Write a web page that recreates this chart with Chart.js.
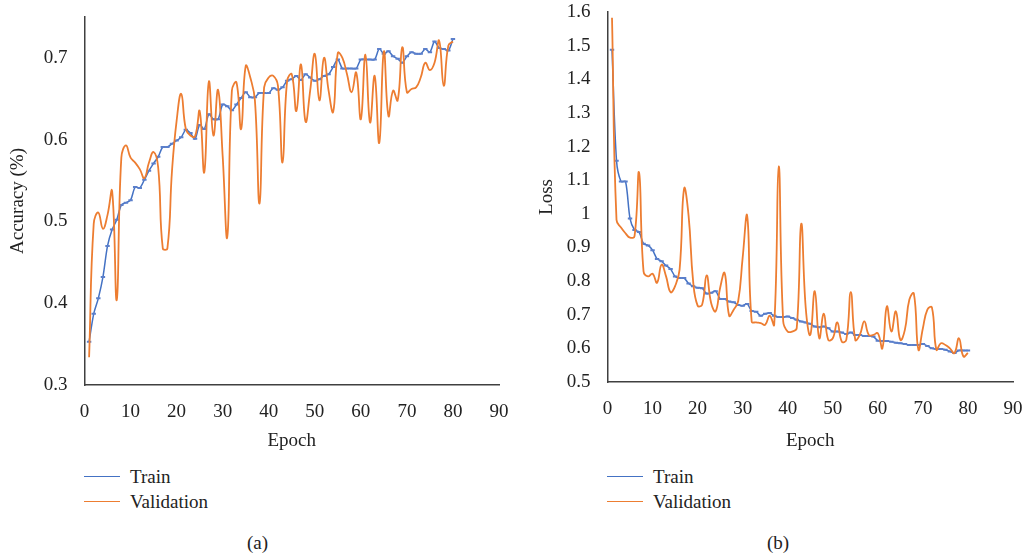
<!DOCTYPE html>
<html>
<head>
<meta charset="utf-8">
<script src="https://cdn.jsdelivr.net/npm/chart.js@4/dist/chart.umd.min.js"></script>
<style>
    body { margin: 0; width: 1026px; height: 559px; background: #fff; position: relative; overflow: hidden;
           font-family: 'Liberation Serif', 'DejaVu Serif', serif; color: #222; }
    .box { position: absolute; top: 0; width: 513px; height: 460px; }
    .key { position: absolute; width: 36px; height: 0; border-top: 1.5px solid; }
    .txt { position: absolute; font-size: 19px; line-height: 23px; white-space: nowrap; }
</style>
</head>
<body>
<div class="box" style="left:0"><canvas id="chartA" width="513" height="460"></canvas></div>
<div class="box" style="left:513px"><canvas id="chartB" width="513" height="460"></canvas></div>

<div class="key" style="left:84px;top:476px;border-color:#4472C4"></div>
<div class="txt" style="left:130px;top:465px">Train</div>
<div class="key" style="left:84px;top:501px;border-color:#ED7D31"></div>
<div class="txt" style="left:130px;top:490px">Validation</div>
<div class="txt" style="left:247px;top:531px">(a)</div>

<div class="key" style="left:607px;top:476px;border-color:#4472C4"></div>
<div class="txt" style="left:653px;top:465px">Train</div>
<div class="key" style="left:607px;top:501px;border-color:#ED7D31"></div>
<div class="txt" style="left:653px;top:490px">Validation</div>
<div class="txt" style="left:767px;top:531px">(b)</div>

<script>
// epochs 1..80
const epochs = Array.from({ length: 80 }, (_, i) => i + 1);

const accTrain = [
    0.353, 0.387, 0.406, 0.432, 0.470, 0.490, 0.502, 0.520, 0.523, 0.526,
    0.542, 0.541, 0.551, 0.562, 0.571, 0.579, 0.591, 0.591, 0.595, 0.599,
    0.603, 0.612, 0.608, 0.601, 0.618, 0.613, 0.631, 0.625, 0.625, 0.643,
    0.641, 0.636, 0.643, 0.651, 0.658, 0.652, 0.652, 0.657, 0.657, 0.657,
    0.663, 0.661, 0.664, 0.672, 0.674, 0.678, 0.673, 0.680, 0.676, 0.672,
    0.674, 0.678, 0.680, 0.689, 0.698, 0.687, 0.687, 0.687, 0.687, 0.698,
    0.698, 0.698, 0.698, 0.711, 0.705, 0.708, 0.702, 0.699, 0.694, 0.702,
    0.707, 0.705, 0.705, 0.711, 0.707, 0.720, 0.712, 0.711, 0.709, 0.723
];
const accVal = [
    0.334, 0.497, 0.511, 0.491, 0.508, 0.537, 0.404, 0.578, 0.593, 0.578,
    0.572, 0.564, 0.553, 0.572, 0.585, 0.566, 0.467, 0.467, 0.562, 0.623,
    0.656, 0.613, 0.605, 0.604, 0.635, 0.560, 0.671, 0.605, 0.661, 0.580,
    0.481, 0.660, 0.670, 0.613, 0.690, 0.676, 0.648, 0.522, 0.664, 0.676,
    0.678, 0.666, 0.572, 0.672, 0.680, 0.635, 0.692, 0.622, 0.660, 0.705,
    0.648, 0.700, 0.660, 0.634, 0.706, 0.700, 0.680, 0.658, 0.682, 0.625,
    0.704, 0.621, 0.678, 0.596, 0.708, 0.629, 0.660, 0.648, 0.713, 0.658,
    0.662, 0.664, 0.676, 0.694, 0.685, 0.694, 0.721, 0.666, 0.715, 0.720
];
const lossTrain = [
    1.488, 1.158, 1.096, 1.096, 0.986, 0.952, 0.946, 0.911, 0.906, 0.892,
    0.866, 0.859, 0.846, 0.836, 0.814, 0.809, 0.809, 0.793, 0.785, 0.780,
    0.779, 0.763, 0.765, 0.770, 0.747, 0.747, 0.739, 0.737, 0.729, 0.727,
    0.732, 0.711, 0.709, 0.697, 0.703, 0.705, 0.697, 0.693, 0.693, 0.695,
    0.690, 0.685, 0.680, 0.677, 0.673, 0.665, 0.663, 0.665, 0.660, 0.650,
    0.650, 0.647, 0.643, 0.647, 0.640, 0.640, 0.637, 0.637, 0.635, 0.623,
    0.622, 0.622, 0.620, 0.617, 0.615, 0.613, 0.610, 0.610, 0.610, 0.613,
    0.607, 0.600, 0.598, 0.598, 0.596, 0.591, 0.586, 0.594, 0.594, 0.594
];
const lossVal = [
    1.583, 0.982, 0.959, 0.942, 0.929, 0.934, 1.123, 0.829, 0.814, 0.822,
    0.795, 0.849, 0.814, 0.767, 0.785, 0.834, 1.075, 0.994, 0.800, 0.727,
    0.730, 0.817, 0.735, 0.710, 0.780, 0.824, 0.697, 0.715, 0.740, 0.870,
    0.994, 0.680, 0.677, 0.675, 0.670, 0.697, 0.670, 1.141, 0.680, 0.650,
    0.650, 0.660, 0.970, 0.720, 0.640, 0.770, 0.630, 0.703, 0.625, 0.630,
    0.677, 0.620, 0.625, 0.767, 0.625, 0.640, 0.680, 0.640, 0.640, 0.645,
    0.600, 0.725, 0.650, 0.710, 0.625, 0.655, 0.745, 0.763, 0.596, 0.660,
    0.715, 0.722, 0.596, 0.615, 0.610, 0.600, 0.586, 0.630, 0.576, 0.586
];

const seriesNames = ['Train', 'Validation'];
const xTicks = { min: 0, max: 90, step: 10 };

const font = { family: "'Liberation Serif', 'DejaVu Serif', serif", size: 19 };
const axisColor = '#404040';
const textColor = '#222';

function points(values) {
    return values.map((v, i) => ({ x: epochs[i], y: v }));
}

// only label the 0.1 steps, hide the extra top value
function tenthLabel(v) {
    const t = v * 10;
    if (Math.abs(t - Math.round(t)) > 1e-6) return '';
    return String(Math.round(t) / 10);
}

function makeChart(id, train, val, yConf) {
    const config = {
        type: 'line',
        data: {
            datasets: [{
                label: seriesNames[0],
                data: points(train),
                borderColor: '#4472C4',
                backgroundColor: '#4472C4',
                borderWidth: 1.5,
                tension: 0.3,
                pointStyle: 'line',
                pointRadius: 2.2,
                pointBorderWidth: 2,
                pointBorderColor: '#5B7FCB',
                order: 2
            }, {
                label: seriesNames[1],
                data: points(val),
                borderColor: '#ED7D31',
                backgroundColor: '#ED7D31',
                borderWidth: 1.8,
                tension: 0.45,
                pointRadius: 0,
                order: 1
            }]
        },
        options: {
            responsive: false,
            animation: false,
            layout: { padding: { top: yConf.top, right: yConf.right, left: 0, bottom: 0 } },
            plugins: { legend: { display: false }, tooltip: { enabled: false } },
            scales: {
                x: {
                    type: 'linear',
                    min: xTicks.min,
                    max: xTicks.max,
                    grid: { display: false, drawTicks: false },
                    border: { display: true, color: axisColor, width: 1.5 },
                    ticks: { stepSize: xTicks.step, font: font, color: textColor, padding: 16, maxRotation: 0 },
                    title: { display: true, text: 'Epoch', font: font, color: textColor, padding: { top: 0, bottom: 8 } },
                    // fixed box so the plot area lands where the picture has it
                    afterFit: s => { s.height = yConf.xHeight; s.paddingLeft = 0; s.paddingRight = 0; }
                },
                y: {
                    min: yConf.min,
                    max: yConf.max,
                    grid: { display: false, drawTicks: false },
                    border: { display: true, color: axisColor, width: 1.5 },
                    ticks: { stepSize: 0.1, font: font, color: textColor, padding: 17, callback: tenthLabel },
                    title: { display: true, text: yConf.title, font: font, color: textColor, padding: { top: yConf.titlePad, bottom: 0 } },
                    afterFit: s => { s.width = yConf.yWidth; s.paddingTop = 0; s.paddingBottom = 0; }
                }
            }
        }
    };
    return new Chart(document.getElementById(id), config);
}

makeChart('chartA', accTrain, accVal, {
    min: 0.3, max: 0.75, title: 'Accuracy (%)',
    top: 17, right: 14, yWidth: 84.5, xHeight: 75, titlePad: 7
});
makeChart('chartB', lossTrain, lossVal, {
    min: 0.5, max: 1.6, title: 'Loss',
    top: 12, right: 13, yWidth: 94.5, xHeight: 78, titlePad: 23
});
</script>
</body>
</html>
